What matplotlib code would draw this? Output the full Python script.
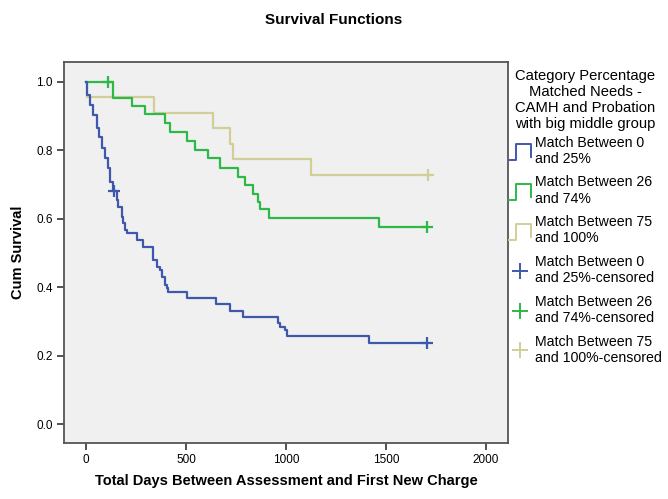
import matplotlib
matplotlib.use("Agg")
import matplotlib.pyplot as plt
from matplotlib.lines import Line2D
from matplotlib.legend_handler import HandlerBase

plt.rcParams['font.family'] = ['Liberation Sans', 'DejaVu Sans']

# ---- data ----
blue_days = [0, 3, 20, 37, 53, 65, 78, 95, 108, 120, 133, 153, 162, 178, 187, 195, 203,
             253, 287, 337, 353, 370, 378, 395, 403, 412, 503, 650, 720, 787, 962, 970,
             995, 1003, 1417, 1705]
blue_surv = [1.0, 0.961, 0.931, 0.902, 0.863, 0.839, 0.805, 0.776, 0.747, 0.707, 0.680,
             0.654, 0.634, 0.605, 0.586, 0.566, 0.557, 0.537, 0.518, 0.479, 0.459, 0.450,
             0.430, 0.406, 0.396, 0.386, 0.367, 0.352, 0.331, 0.313, 0.294, 0.284, 0.274,
             0.257, 0.238, 0.238]
blue_cens_days = [140, 1705]
blue_cens_surv = [0.680, 0.238]

green_days = [0, 133, 228, 295, 395, 420, 503, 545, 612, 670, 762, 795, 833, 862, 870,
              917, 1467, 1705]
green_surv = [1.0, 0.953, 0.929, 0.904, 0.878, 0.853, 0.826, 0.800, 0.776, 0.749, 0.722,
              0.698, 0.673, 0.649, 0.627, 0.602, 0.576, 0.576]
green_cens_days = [112, 1705]
green_cens_surv = [1.0, 0.576]

tan_days = [0, 5, 340, 633, 722, 735, 1125, 1710]
tan_surv = [1.0, 0.955, 0.909, 0.864, 0.818, 0.773, 0.727, 0.727]
tan_cens_days = [1710]
tan_cens_surv = [0.727]

labels = ["Match Between 0\nand 25%", "Match Between 26\nand 74%", "Match Between 75\nand 100%",
          "Match Between 0\nand 25%-censored", "Match Between 26\nand 74%-censored",
          "Match Between 75\nand 100%-censored"]
legend_title = "Category Percentage\nMatched Needs -\nCAMH and Probation\nwith big middle group"
x_ticks = [0, 500, 1000, 1500, 2000]
y_ticks = [0.0, 0.2, 0.4, 0.6, 0.8, 1.0]

BLUE = "#3E58AC"
GREEN = "#2EB848"
TAN = "#D3CE97"

fig = plt.figure(figsize=(6.68, 4.99), dpi=100)
ax = fig.add_axes([0.0958, 0.1122, 0.6647, 0.7636])
ax.set_facecolor("#F0F0F0")

for d, s, c in [(tan_days, tan_surv, TAN), (green_days, green_surv, GREEN), (blue_days, blue_surv, BLUE)]:
    ax.step(d, s, where='post', color=c, lw=1.6)
for d, s, c in [(tan_cens_days, tan_cens_surv, TAN), (green_cens_days, green_cens_surv, GREEN),
                (blue_cens_days, blue_cens_surv, BLUE)]:
    ax.plot(d, s, linestyle='none', marker='+', ms=9, mew=1.6, color=c)

ax.set_xlim(-110, 2110)
ax.set_ylim(-0.055, 1.057)
ax.set_xticks(x_ticks)
ax.set_yticks(y_ticks)
ax.set_yticklabels([f"{v:.1f}" for v in y_ticks])
ax.tick_params(direction='out', length=5, width=1.2, color="#333333", labelsize=8.5, pad=3)
for sp in ax.spines.values():
    sp.set_color("#555555")
    sp.set_linewidth(1.3)

ax.set_xlabel("Total Days Between Assessment and First New Charge", fontsize=10.5,
              fontweight='bold', labelpad=6)
ax.set_ylabel("Cum Survival", fontsize=10.5, fontweight='bold', labelpad=8)
fig.text(0.5, 0.96, "Survival Functions", ha='center', va='center', fontsize=11, fontweight='bold')


class StepHandler(HandlerBase):
    def create_artists(self, legend, orig_handle, xdescent, ydescent, width, height, fontsize, trans):
        x0 = -xdescent
        y0 = -ydescent
        h = height * 1.6
        yb = y0 - height * 0.4
        xs = [x0, x0 + width * 0.3, x0 + width * 0.3, x0 + width * 0.95, x0 + width * 0.95]
        ys = [yb, yb, yb + h, yb + h, yb + h * 0.2]
        ln = Line2D(xs, ys, color=orig_handle.get_color(), lw=1.4, transform=trans)
        return [ln]


h_lines = [Line2D([], [], color=c) for c in (BLUE, GREEN, TAN)]
h_cens = [Line2D([], [], color=c, linestyle='none', marker='+', ms=11, mew=1.4) for c in (BLUE, GREEN, TAN)]
handler_map = {h: StepHandler() for h in h_lines}

leg = fig.legend(h_lines + h_cens, labels, title=legend_title, loc='upper left',
                 bbox_to_anchor=(0.762, 0.862), frameon=False, fontsize=10.2,
                 title_fontsize=10.6, handlelength=1.6, handletextpad=0.25,
                 labelspacing=0.68, borderpad=0, borderaxespad=0, handler_map=handler_map)
leg.get_title().set_multialignment('center')
leg._legend_box.align = "center"
leg._legend_box.sep = 3.0

fig.savefig("out.png", dpi=100)
